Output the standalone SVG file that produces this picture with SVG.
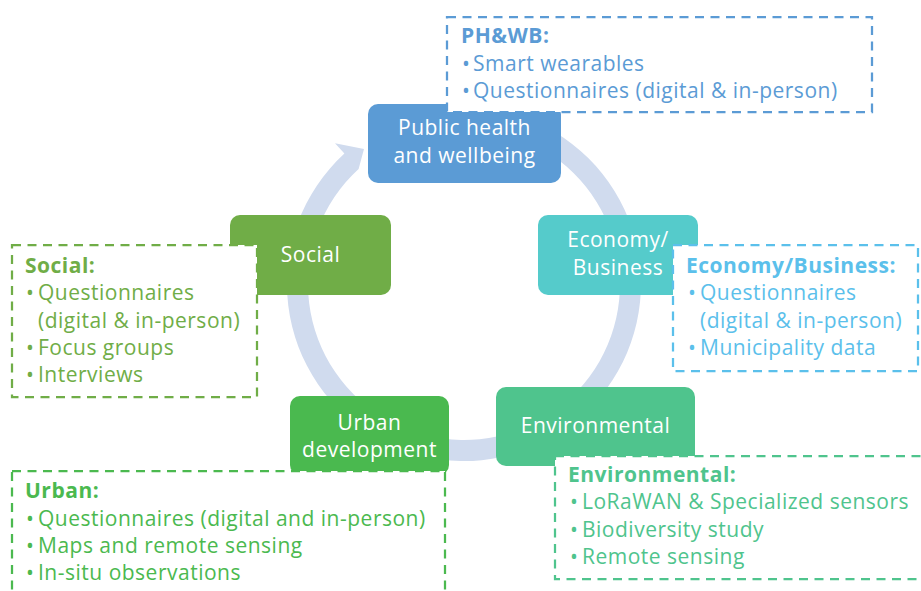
<svg xmlns="http://www.w3.org/2000/svg" width="921" height="591" viewBox="0 0 921 591">
  <style>
    text { font-family: "Open Sans", "Liberation Sans", sans-serif; font-size: 21px; letter-spacing: 0.5px; }
    .node-label { fill: #ffffff; text-anchor: middle; }
    .callout { fill: #ffffff; stroke-width: 2.25; stroke-dasharray: 9 6.5; }
    .title { font-weight: bold; }
    .blue { fill: #5B9BD5; }
    .sky { fill: #5BC0EB; }
    .olive { fill: #70AD47; }
    .green { fill: #4BB94F; }
    .teal { fill: #4FC48D; }
  </style>

  <!-- circular cycle arrow behind the nodes -->
  <g id="connectors">
    <path d="M433.3,109.7 A177,177 0 1 1 344.4,153.5 L335,143.2 L364,149 L358.6,169 A156,156 0 1 0 436.9,130.4 Z" fill="#D0DBEE"/>
  </g>

  <!-- cycle nodes -->
  <g id="node-public-health">
    <rect x="368" y="104" width="193" height="79" rx="10" fill="#5B9BD5"/>
    <text class="node-label" x="464.5" y="135">Public health</text>
    <text class="node-label" x="464.5" y="163">and wellbeing</text>
  </g>
  <g id="node-social">
    <rect x="230" y="215" width="161" height="80" rx="10" fill="#70AD47"/>
    <text class="node-label" x="310.5" y="262">Social</text>
  </g>
  <g id="node-economy">
    <rect x="538" y="215" width="160" height="80" rx="10" fill="#55CBCB"/>
    <text class="node-label" x="618" y="247">Economy/</text>
    <text class="node-label" x="618" y="275">Business</text>
  </g>
  <g id="node-environmental">
    <rect x="496" y="387" width="199" height="79" rx="10" fill="#4FC48D"/>
    <text class="node-label" x="595.5" y="433">Environmental</text>
  </g>
  <g id="node-urban">
    <rect x="290" y="396" width="159" height="79" rx="10" fill="#4AB94F"/>
    <text class="node-label" x="369.5" y="430">Urban</text>
    <text class="node-label" x="369.5" y="457">development</text>
  </g>

  <!-- data source callouts -->
  <g id="callout-phwb">
    <rect class="callout" x="447" y="17" width="425" height="95" stroke="#5B9BD5"/>
    <text class="blue title" x="461" y="43">PH&amp;WB:</text>
    <text class="blue" y="71"><tspan x="462">•</tspan><tspan x="473">Smart wearables</tspan></text>
    <text class="blue" y="98"><tspan x="462">•</tspan><tspan x="473">Questionnaires (digital &amp; in-person)</tspan></text>
  </g>
  <g id="callout-social">
    <rect class="callout" x="12" y="245" width="245" height="152" stroke="#70AD47"/>
    <text class="olive title" x="25" y="273">Social:</text>
    <text class="olive" y="300"><tspan x="26">•</tspan><tspan x="38">Questionnaires</tspan></text>
    <text class="olive" x="38" y="328">(digital &amp; in-person)</text>
    <text class="olive" y="355"><tspan x="26">•</tspan><tspan x="38">Focus groups</tspan></text>
    <text class="olive" y="382"><tspan x="26">•</tspan><tspan x="38">Interviews</tspan></text>
  </g>
  <g id="callout-economy">
    <rect class="callout" x="673" y="245" width="245" height="126" stroke="#5BC0EB"/>
    <text class="sky title" x="686" y="273">Economy/Business:</text>
    <text class="sky" y="300"><tspan x="688">•</tspan><tspan x="700">Questionnaires</tspan></text>
    <text class="sky" x="700" y="328">(digital &amp; in-person)</text>
    <text class="sky" y="355"><tspan x="688">•</tspan><tspan x="700">Municipality data</tspan></text>
  </g>
  <g id="callout-urban">
    <rect class="callout" x="12" y="471" width="433" height="130" stroke="#4BB94F"/>
    <text class="green title" x="25" y="498">Urban:</text>
    <text class="green" y="526"><tspan x="26">•</tspan><tspan x="38">Questionnaires (digital and in-person)</tspan></text>
    <text class="green" y="553"><tspan x="26">•</tspan><tspan x="38">Maps and remote sensing</tspan></text>
    <text class="green" y="580"><tspan x="26">•</tspan><tspan x="38">In-situ observations</tspan></text>
  </g>
  <g id="callout-environmental">
    <rect class="callout" x="555" y="456" width="375" height="123" stroke="#4FC48D"/>
    <text class="teal title" x="568" y="482">Environmental:</text>
    <text class="teal" y="509"><tspan x="570">•</tspan><tspan x="582">LoRaWAN &amp; Specialized sensors</tspan></text>
    <text class="teal" y="537"><tspan x="570">•</tspan><tspan x="582">Biodiversity study</tspan></text>
    <text class="teal" y="564"><tspan x="570">•</tspan><tspan x="582">Remote sensing</tspan></text>
  </g>
</svg>
